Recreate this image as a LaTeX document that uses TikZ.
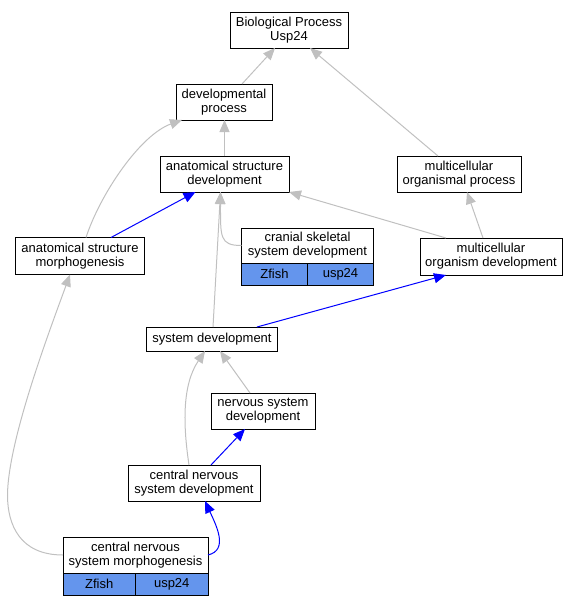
\documentclass[tikz,border=0pt]{standalone}
\usepackage{fontspec}
\setmainfont{Liberation Sans}
\usepackage{xcolor}
\usetikzlibrary{arrows.meta,positioning}
\definecolor{cellblue}{RGB}{100,149,237}
\definecolor{isagray}{RGB}{192,192,192}

\begin{document}
\begin{tikzpicture}[x=1pt,y=-1pt]
            \tikzstyle{term} = [rectangle, draw, line width=1pt, fill=white, align=center, inner sep=0pt, outer sep=0pt, font=\fontsize{13}{14}\selectfont]
            \tikzstyle{cell} = [term, fill=cellblue, minimum height=22pt]
            \tikzstyle{isa} = [isagray, line width=1pt, -{Triangle[length=12pt,width=10pt]}]
            \tikzstyle{partof} = [blue, line width=1pt, -{Triangle[length=12pt,width=10pt]}]

            \useasboundingbox (0,0) rectangle (576,605);

            \node [term, minimum width=118pt, minimum height=36pt] (bp) at (289,30) {Biological Process\\Usp24};
            \node [term, minimum width=96pt, minimum height=36pt] (dev) at (224,102) {developmental\\process};
            \node [term, minimum width=129pt, minimum height=36pt] (asd) at (224.5,174) {anatomical structure\\development};
            \node [term, minimum width=124pt, minimum height=36pt] (mop) at (459,174) {multicellular\\organismal process};
            \node [term, minimum width=129pt, minimum height=37pt] (asm) at (80,256) {anatomical structure\\morphogenesis};
            \node [term, minimum width=132pt, minimum height=35pt] (csd) at (307.5,245.5) {cranial skeletal\\system development};
            \node [cell, minimum width=66pt, anchor=north west] (csdz) at (csd.south west) {Zfish};
            \node [cell, minimum width=66pt, anchor=north east] (csdu) at (csd.south east) {usp24};
            \node [term, minimum width=142pt, minimum height=37pt] (mod) at (491,256.5) {multicellular\\organism development};
            \node [term, minimum width=131pt, minimum height=24pt] (sd) at (212,339) {system development};
            \node [term, minimum width=104pt, minimum height=36pt] (nsd) at (263,411) {nervous system\\development};
            \node [term, minimum width=132pt, minimum height=36pt] (cnsd) at (194,483) {central nervous\\system development};
            \node [term, minimum width=145pt, minimum height=36pt] (cnsm) at (135.5,555) {central nervous\\system morphogenesis};
            \node [cell, minimum width=72.5pt, anchor=north west] (cnsmz) at (cnsm.south west) {Zfish};
            \node [cell, minimum width=72.5pt, anchor=north east] (cnsmu) at (cnsm.south east) {usp24};
            \coordinate (bend) at (7.5,495);

            \draw [isa] ([xshift=18pt]dev.north) -- ([xshift=-14pt]bp.south);
            \draw [isa] ([xshift=-21pt]mop.north) -- ([xshift=21pt]bp.south);
            \draw [isa] (asd.north) -- (asd.north |- dev.south);
            \draw [isa] ([xshift=6pt]asm.north) .. controls +(14,-43) and +(-42,15) .. ([xshift=-42pt]dev.south);
            \draw [partof] ([xshift=31pt]asm.north) -- ([xshift=-29pt]asd.south);
            \draw [isa] ([xshift=-45pt]mod.north) -- (asd.south east);
            \draw [isa] ([xshift=-8pt]mod.north) -- ([xshift=8pt]mop.south);
            \draw [isa] (csd.west) .. controls +(-22,0) and +(0,45) .. ([xshift=-4pt]asd.south);
            \draw [isa] ([xshift=1pt]sd.north) -- ([xshift=-4pt]asd.south);
            \draw [partof] ([xshift=45pt]sd.north) -- ([xshift=-45pt]mod.south);
            \draw [isa] ([xshift=-13pt]nsd.north) -- ([xshift=8pt]sd.south);
            \draw [isa] ([xshift=-5pt]cnsd.north) .. controls +(-6,-40) and +(-23,34) .. ([xshift=-7pt]sd.south);
            \draw [partof] ([xshift=17pt]cnsd.north) -- ([xshift=-18pt]nsd.south);
            \draw [partof] (cnsm.east) .. controls +(21,-5) and +(11,24) .. ([xshift=11pt]cnsd.south);
            \draw [isa] (cnsm.west) .. controls +(-43,0) and +(0,30) .. (bend) .. controls +(0.5,-55) and +(-20,55) .. ([xshift=-10pt]asm.south);
        \end{tikzpicture}
\end{document}
